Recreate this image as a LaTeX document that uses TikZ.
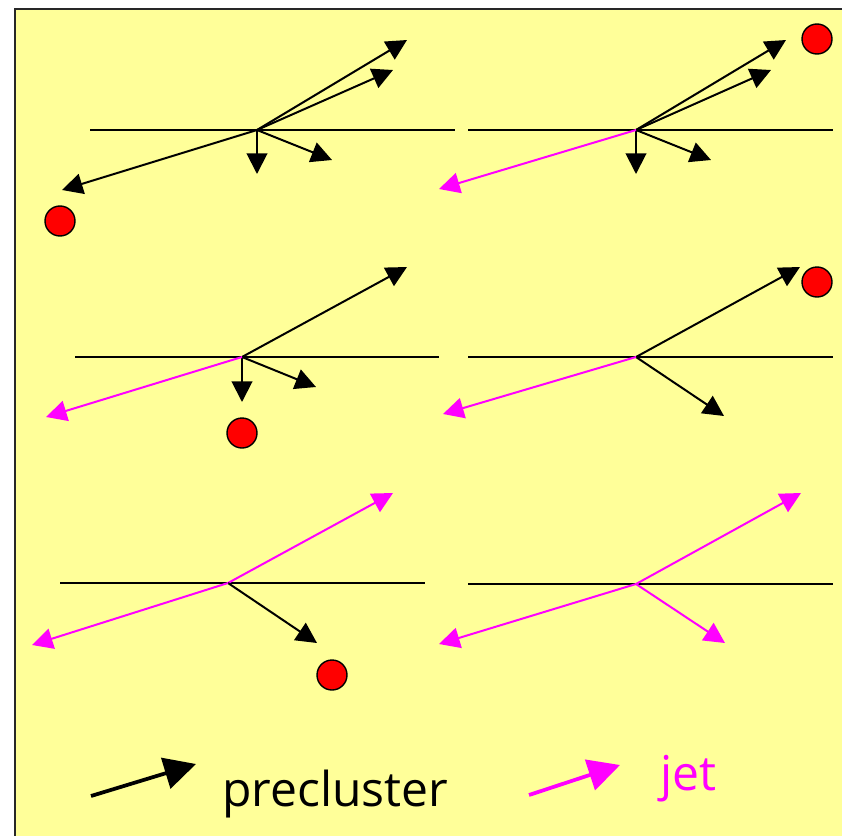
\documentclass[tikz,border=0pt]{standalone}
\usepackage{fontspec}
\usepackage{xcolor}
\usepackage{tikz}
\usetikzlibrary{arrows.meta,positioning}
\newfontfamily\legendfont{Open Sans}
\definecolor{xpaper}{RGB}{255,255,153}
\definecolor{xjet}{RGB}{255,0,255}
\definecolor{xseed}{RGB}{255,0,0}
\definecolor{xframe}{RGB}{40,40,40}

\begin{document}
\begin{tikzpicture}[
  x=0.03cm, y=-0.03cm,
  base/.style={line width=1.3pt, black},
  pc/.style={line width=1.7pt, black,
             -{Triangle[length=0.62cm, width=0.62cm]}},
  jet/.style={line width=1.7pt, xjet,
              -{Triangle[length=0.62cm, width=0.62cm]}},
  seed/.style={circle, draw=black, fill=xseed, line width=1.2pt,
               minimum size=0.9cm, inner sep=0pt},
  legendtext/.style={font=\legendfont\fontsize{41}{46}\selectfont, inner sep=0pt}
]
  \useasboundingbox (0,0) rectangle (842,835);
  \clip (0,0) rectangle (842,835);
  \draw[xframe, fill=xpaper, line width=1.8pt] (15,9) rectangle (860,860);

  % baselines of the six events
  \foreach \x/\y/\l in {90/130/455, 468/130/833, 75/357/439,
                        468/357/833, 60/583/425, 468/584/833}
    \draw[base] (\x,\y) -- (\l,\y);

  % event 1: all preclusters
  \coordinate (c1) at (257,130);
  \coordinate (a1) at (407,40);  \coordinate (b1) at (393,70);
  \coordinate (d1) at (257,174); \coordinate (e1) at (332,160);
  \coordinate (f1) at (62,190);
  \node[seed] (s1) at (60,221) {};
  \foreach \t in {a1,b1,d1,e1,f1}
    \draw[pc] (c1) -- (\t);

  % event 2
  \coordinate (c2) at (636,130);
  \coordinate (a2) at (786,40);  \coordinate (b2) at (771,70);
  \coordinate (d2) at (636,174); \coordinate (e2) at (711,160);
  \coordinate (f2) at (439,189);
  \node[seed] (s2) at (817,39) {};
  \foreach \t in {a2,b2,d2,e2}
    \draw[pc] (c2) -- (\t);
  \draw[jet] (c2) -- (f2);

  % event 3
  \coordinate (c3) at (242,357);
  \coordinate (a3) at (407,267); \coordinate (d3) at (242,402);
  \coordinate (e3) at (316,387); \coordinate (f3) at (46,417);
  \node[seed] (s3) at (242,433) {};
  \foreach \t in {a3,d3,e3}
    \draw[pc] (c3) -- (\t);
  \draw[jet] (c3) -- (f3);

  % event 4
  \coordinate (c4) at (636,357);
  \coordinate (a4) at (800,267); \coordinate (e4) at (724,416);
  \coordinate (f4) at (443,414);
  \node[seed] (s4) at (817,282) {};
  \draw[pc] (c4) -- (a4);
  \draw[pc] (c4) -- (e4);
  \draw[jet] (c4) -- (f4);

  % event 5
  \coordinate (c5) at (228,583);
  \coordinate (a5) at (393,493); \coordinate (e5) at (317,643);
  \coordinate (f5) at (32,645);
  \node[seed] (s5) at (332,675) {};
  \draw[jet] (c5) -- (a5);
  \draw[pc] (c5) -- (e5);
  \draw[jet] (c5) -- (f5);

  % event 6: all jets
  \coordinate (c6) at (636,584);
  \coordinate (a6) at (801,493); \coordinate (e6) at (725,643);
  \coordinate (f6) at (439,644);
  \foreach \t in {a6,e6,f6}
    \draw[jet] (c6) -- (\t);

  % legend
  \coordinate (p0) at (91,796);  \coordinate (p1) at (196,764);
  \coordinate (j0) at (529,795); \coordinate (j1) at (620,765);
  \draw[line width=3.2pt, -{Triangle[length=0.95cm, width=0.95cm]}] (p0) -- (p1);
  \draw[line width=3.2pt, xjet, -{Triangle[length=0.95cm, width=0.95cm]}] (j0) -- (j1);
  \node[legendtext, anchor=base west] (lpc) at (222,806) {precluster};
  \node[legendtext, anchor=base west, text=xjet] (ljet) at (660,790) {jet};
\end{tikzpicture}
\end{document}
